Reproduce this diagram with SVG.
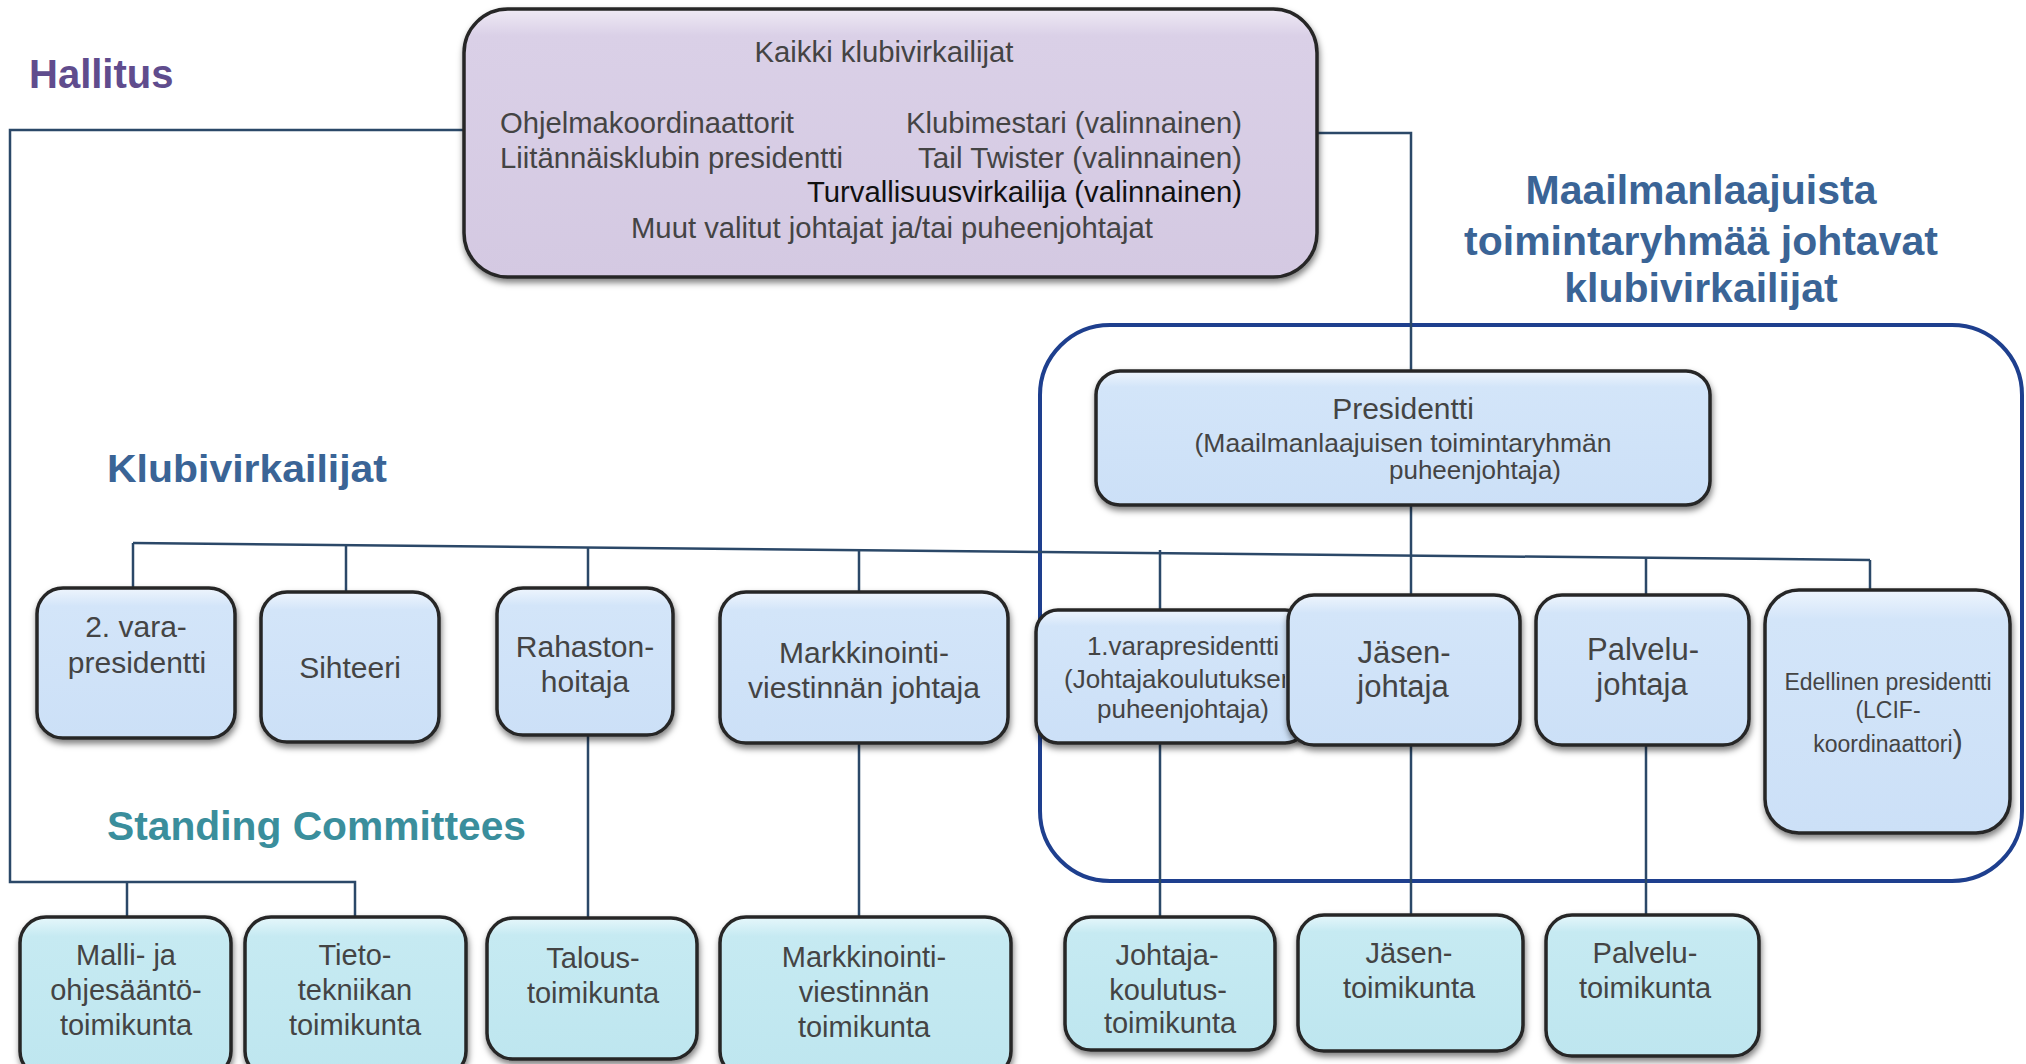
<svg xmlns="http://www.w3.org/2000/svg" width="2026" height="1064" viewBox="0 0 2026 1064">
<defs>
<linearGradient id="gB" x1="0" y1="0" x2="0" y2="1">
<stop offset="0" stop-color="#EEF5FD"/><stop offset="0.12" stop-color="#D3E5F9"/><stop offset="1" stop-color="#CCE0F7"/>
</linearGradient>
<linearGradient id="gC" x1="0" y1="0" x2="0" y2="1">
<stop offset="0" stop-color="#E6F7FB"/><stop offset="0.12" stop-color="#C6EAF2"/><stop offset="1" stop-color="#BEE6EF"/>
</linearGradient>
<linearGradient id="gP" x1="0" y1="0" x2="0" y2="1">
<stop offset="0" stop-color="#EFEAF5"/><stop offset="0.1" stop-color="#DAD0E7"/><stop offset="1" stop-color="#D4C9E2"/>
</linearGradient>
<filter id="sh" x="-10%" y="-10%" width="125%" height="130%">
<feDropShadow dx="1" dy="4" stdDeviation="3" flood-color="#000" flood-opacity="0.5"/>
</filter>
<clipPath id="clip1v"><rect x="1036" y="600" width="249" height="150"/></clipPath>
<style>
.bx{stroke:#262626;stroke-width:3.5;filter:url(#sh)}
.b{fill:url(#gB)}
.c{fill:url(#gC)}
.p{fill:url(#gP)}
.t{font-family:"Liberation Sans",Arial,sans-serif;fill:#444;text-anchor:middle}
.h{font-family:"Liberation Sans",Arial,sans-serif;font-weight:bold}
.ln{fill:none;stroke:#2B4868;stroke-width:2.5}
</style>
</defs>
<rect width="2026" height="1064" fill="#fff"/>

<!-- section labels -->
<text class="h" x="29" y="88" font-size="40" fill="#604C8D">Hallitus</text>
<text class="h" x="107" y="482" font-size="39" fill="#3A6496" textLength="280" lengthAdjust="spacingAndGlyphs">Klubivirkailijat</text>
<text class="h" x="107" y="840" font-size="40" fill="#3A8E9C" textLength="419" lengthAdjust="spacingAndGlyphs">Standing Committees</text>
<g class="h" font-size="41" fill="#3A6496" text-anchor="middle">
<text x="1701" y="204">Maailmanlaajuista</text>
<text x="1701" y="255">toimintaryhmää johtavat</text>
<text x="1701" y="302">klubivirkailijat</text>
</g>

<!-- group outline -->
<rect x="1040" y="325" width="982" height="556" rx="70" fill="none" stroke="#1E3F8E" stroke-width="4"/>

<!-- connectors -->
<g id="connectors" class="ln">
<polyline points="464,130 10,130 10,882 355,882 355,917"/>
<line x1="127" y1="882" x2="127" y2="917"/>
<polyline points="1317,133 1411,133 1411,371"/>
<line x1="1411" y1="505" x2="1411" y2="595"/>
<line x1="133" y1="543" x2="1870" y2="560"/>
<line x1="133" y1="543" x2="133" y2="588"/>
<line x1="346" y1="545" x2="346" y2="592"/>
<line x1="588" y1="547" x2="588" y2="918"/>
<line x1="859" y1="550" x2="859" y2="917"/>
<line x1="1160" y1="550" x2="1160" y2="917"/>
<line x1="1646" y1="558" x2="1646" y2="915"/>
<line x1="1870" y1="560" x2="1870" y2="590"/>
<line x1="1411" y1="745" x2="1411" y2="915"/>
</g>

<!-- top box -->
<g id="n-kaikki">
<rect class="bx p" x="464" y="9" width="853" height="268" rx="44"/>
<g class="t" font-size="29">
<text x="884" y="62" textLength="259" lengthAdjust="spacingAndGlyphs">Kaikki klubivirkailijat</text>
<text x="500" y="133" text-anchor="start" textLength="294" lengthAdjust="spacingAndGlyphs">Ohjelmakoordinaattorit</text>
<text x="500" y="168" text-anchor="start" textLength="343" lengthAdjust="spacingAndGlyphs">Liitännäisklubin presidentti</text>
<text x="1242" y="133" text-anchor="end" textLength="336" lengthAdjust="spacingAndGlyphs">Klubimestari (valinnainen)</text>
<text x="1242" y="168" text-anchor="end" textLength="324" lengthAdjust="spacingAndGlyphs">Tail Twister (valinnainen)</text>
<text x="1242" y="202" text-anchor="end" fill="#111" textLength="435" lengthAdjust="spacingAndGlyphs">Turvallisuusvirkailija (valinnainen)</text>
<text x="892" y="238" textLength="522" lengthAdjust="spacingAndGlyphs">Muut valitut johtajat ja/tai puheenjohtajat</text>
</g>
</g>

<!-- Presidentti -->
<g id="n-presidentti">
<rect class="bx b" x="1096" y="371" width="614" height="134" rx="24"/>
<text class="t" x="1403" y="419" font-size="30">Presidentti</text>
<text class="t" x="1403" y="452" font-size="26" textLength="417" lengthAdjust="spacingAndGlyphs">(Maailmanlaajuisen toimintaryhmän</text>
<text class="t" x="1475" y="479" font-size="26">puheenjohtaja)</text>
</g>

<!-- officer row -->
<g id="n-2vara">
<rect class="bx b" x="37" y="588" width="198" height="150" rx="26"/>
<text class="t" x="136" y="637" font-size="30">2. vara-</text>
<text class="t" x="137" y="673" font-size="30">presidentti</text>
</g>
<g id="n-sihteeri">
<rect class="bx b" x="261" y="592" width="178" height="150" rx="26"/>
<text class="t" x="350" y="678" font-size="30">Sihteeri</text>
</g>
<g id="n-rahasto">
<rect class="bx b" x="497" y="588" width="176" height="147" rx="26"/>
<text class="t" x="585" y="657" font-size="30">Rahaston-</text>
<text class="t" x="585" y="692" font-size="30">hoitaja</text>
</g>
<g id="n-markkinointi">
<rect class="bx b" x="720" y="592" width="288" height="151" rx="26"/>
<text class="t" x="864" y="663" font-size="30">Markkinointi-</text>
<text class="t" x="864" y="698" font-size="30">viestinnän johtaja</text>
</g>
<g id="n-1vara">
<rect class="bx b" x="1036" y="610" width="271" height="133" rx="22"/>
<g clip-path="url(#clip1v)">
<text class="t" x="1183" y="655" font-size="26">1.varapresidentti</text>
<text class="t" x="1064" y="688" font-size="26" style="text-anchor:start">(Johtajakoulutuksen</text>
<text class="t" x="1183" y="718" font-size="26">puheenjohtaja)</text>
</g>
</g>
<g id="n-jasen">
<rect class="bx b" x="1288" y="595" width="232" height="150" rx="26"/>
<text class="t" x="1404" y="663" font-size="31">Jäsen-</text>
<text class="t" x="1403" y="697" font-size="31">johtaja</text>
</g>
<g id="n-palvelu">
<rect class="bx b" x="1536" y="595" width="213" height="150" rx="26"/>
<text class="t" x="1643" y="660" font-size="31">Palvelu-</text>
<text class="t" x="1642" y="695" font-size="31">johtaja</text>
</g>
<g id="n-edellinen">
<rect class="bx b" x="1765" y="590" width="245" height="243" rx="34"/>
<text class="t" x="1888" y="690" font-size="23">Edellinen presidentti</text>
<text class="t" x="1888" y="718" font-size="23">(LCIF-</text>
<text class="t" x="1888" y="752" font-size="23">koordinaattori<tspan font-size="31">)</tspan></text>
</g>

<!-- committees row -->
<g id="n-malli">
<rect class="bx c" x="20" y="917" width="211" height="160" rx="26"/>
<text class="t" x="126" y="965" font-size="29">Malli- ja</text>
<text class="t" x="126" y="1000" font-size="29">ohjesääntö-</text>
<text class="t" x="126" y="1035" font-size="29">toimikunta</text>
</g>
<g id="n-tieto">
<rect class="bx c" x="245" y="917" width="221" height="160" rx="26"/>
<text class="t" x="355" y="965" font-size="29">Tieto-</text>
<text class="t" x="355" y="1000" font-size="29">tekniikan</text>
<text class="t" x="355" y="1035" font-size="29">toimikunta</text>
</g>
<g id="n-talous">
<rect class="bx c" x="487" y="918" width="210" height="141" rx="26"/>
<text class="t" x="593" y="968" font-size="29">Talous-</text>
<text class="t" x="593" y="1003" font-size="29">toimikunta</text>
</g>
<g id="n-markk-tmk">
<rect class="bx c" x="720" y="917" width="291" height="160" rx="26"/>
<text class="t" x="864" y="967" font-size="29">Markkinointi-</text>
<text class="t" x="864" y="1002" font-size="29">viestinnän</text>
<text class="t" x="864" y="1037" font-size="29">toimikunta</text>
</g>
<g id="n-johtaja-tmk">
<rect class="bx c" x="1065" y="917" width="210" height="133" rx="26"/>
<text class="t" x="1167" y="965" font-size="29">Johtaja-</text>
<text class="t" x="1168" y="1000" font-size="29">koulutus-</text>
<text class="t" x="1170" y="1033" font-size="29">toimikunta</text>
</g>
<g id="n-jasen-tmk">
<rect class="bx c" x="1298" y="915" width="225" height="136" rx="26"/>
<text class="t" x="1409" y="963" font-size="29">Jäsen-</text>
<text class="t" x="1409" y="998" font-size="29">toimikunta</text>
</g>
<g id="n-palvelu-tmk">
<rect class="bx c" x="1546" y="915" width="213" height="141" rx="26"/>
<text class="t" x="1645" y="963" font-size="29">Palvelu-</text>
<text class="t" x="1645" y="998" font-size="29">toimikunta</text>
</g>
</svg>
